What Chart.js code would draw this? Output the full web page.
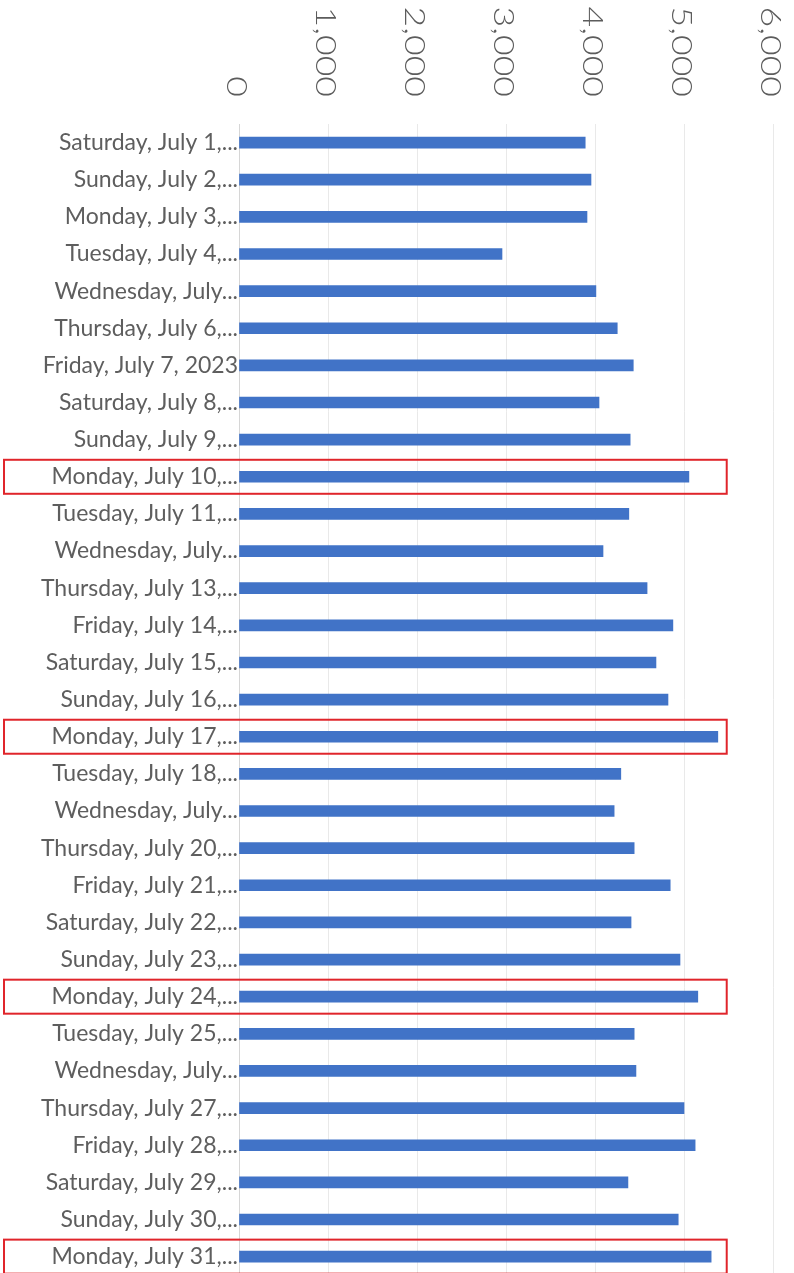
<!DOCTYPE html>
<html>
<head>
<meta charset="utf-8">
<script src="https://cdn.jsdelivr.net/npm/chart.js@4/dist/chart.umd.min.js"></script>
<style>
    html, body { margin: 0; padding: 0; background: #fff; overflow: hidden; }
    #wrap { width: 794px; height: 1290px; }
</style>
</head>
<body>
<div id="wrap"><canvas id="dailyChart" width="794" height="1290"></canvas></div>
<script>
// Daily values, July 2023
const categories = [
    'Saturday, July 1,...', 'Sunday, July 2,...', 'Monday, July 3,...', 'Tuesday, July 4,...',
    'Wednesday, July...', 'Thursday, July 6,...', 'Friday, July 7, 2023', 'Saturday, July 8,...',
    'Sunday, July 9,...', 'Monday, July 10,...', 'Tuesday, July 11,...', 'Wednesday, July...',
    'Thursday, July 13,...', 'Friday, July 14,...', 'Saturday, July 15,...', 'Sunday, July 16,...',
    'Monday, July 17,...', 'Tuesday, July 18,...', 'Wednesday, July...', 'Thursday, July 20,...',
    'Friday, July 21,...', 'Saturday, July 22,...', 'Sunday, July 23,...', 'Monday, July 24,...',
    'Tuesday, July 25,...', 'Wednesday, July...', 'Thursday, July 27,...', 'Friday, July 28,...',
    'Saturday, July 29,...', 'Sunday, July 30,...', 'Monday, July 31,...'
];
const values = [
    3890, 3955, 3910, 2955, 4010, 4250, 4430, 4045,
    4395, 5055, 4380, 4090, 4585, 4875, 4685, 4820,
    5380, 4290, 4215, 4440, 4845, 4405, 4955, 5155,
    4440, 4460, 5000, 5125, 4370, 4935, 5305
];
const xTickLabels = ['0', '1,000', '2,000', '3,000', '4,000', '5,000', '6,000'];
// rows circled in red (Mondays)
const highlightRows = [9, 16, 23, 30];

// top axis labels, rotated a quarter turn clockwise
const rotatedTicks = {
    id: 'rotatedTicks',
    afterDraw(chart) {
        const ctx = chart.ctx;
        const scale = chart.scales.x;
        ctx.save();
        ctx.fillStyle = '#5c5c5c';
        ctx.font = '300 27px Lato';
        ctx.textAlign = 'right';
        ctx.textBaseline = 'middle';
        scale.ticks.forEach((tick, i) => {
            const x = scale.getPixelForValue(tick.value) - 3;
            ctx.save();
            ctx.translate(x, 97);
            ctx.rotate(Math.PI / 2);
            ctx.scale(1.32, 1);
            ctx.fillText(xTickLabels[i] || '', 0, 0);
            ctx.restore();
        });
        ctx.restore();
    }
};

// red boxes around the Monday rows
const redBoxes = {
    id: 'redBoxes',
    afterDraw(chart) {
        const ctx = chart.ctx;
        const yScale = chart.scales.y;
        const xScale = chart.scales.x;
        const right = xScale.getPixelForValue(5480);
        ctx.save();
        ctx.strokeStyle = '#e0252b';
        ctx.lineWidth = 2;
        highlightRows.forEach(row => {
            const y = yScale.getPixelForValue(row);
            ctx.strokeRect(4, y - 17, right - 4, 34);
        });
        ctx.restore();
    }
};

new Chart(document.getElementById('dailyChart'), {
    type: 'bar',
    data: {
        labels: categories,
        datasets: [{
            data: values,
            backgroundColor: '#4173c7',
            barThickness: 11
        }]
    },
    options: {
        indexAxis: 'y',
        responsive: false,
        animation: false,
        layout: { padding: { left: 0, right: 21, top: 0, bottom: 14 } },
        plugins: {
            legend: { display: false },
            tooltip: { enabled: false }
        },
        scales: {
            x: {
                position: 'top',
                min: 0,
                max: 6000,
                ticks: { stepSize: 1000, display: false },
                grid: { color: '#e9e9e9', lineWidth: 1, drawTicks: false },
                border: { display: false },
                afterFit(scale) { scale.height = 124; }
            },
            y: {
                grid: { display: false, drawTicks: false },
                border: { display: true, color: '#d6d6d6' },
                ticks: {
                    color: '#5e5e5e',
                    font: { family: 'Lato', size: 23 },
                    padding: 1,
                    autoSkip: false
                },
                afterFit(scale) { scale.width = 239; }
            }
        }
    },
    plugins: [rotatedTicks, redBoxes]
});
</script>
</body>
</html>
